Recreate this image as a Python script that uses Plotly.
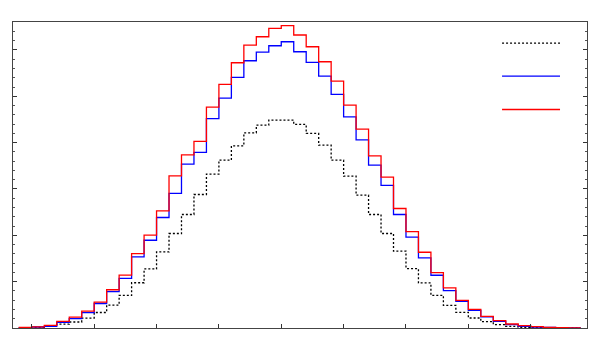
import numpy as np
import plotly.graph_objects as go

# histogram binning (same for all three samples)
bin_start = -4.2
bin_width = 0.2

counts_dotted = [4, 15, 43, 84, 130, 214, 335, 495, 702, 976, 1274, 1641, 2039, 2449, 2881,
                 3320, 3622, 3931, 4212, 4378, 4486, 4486, 4393, 4199, 3946, 3622, 3276, 2866,
                 2449, 2039, 1657, 1283, 972, 706, 490, 339, 216, 138, 73, 37, 15, 6, 0, 0, 0]
counts_blue = [6, 22, 37, 123, 203, 333, 529, 786, 1069, 1533, 1894, 2384, 2903, 3536, 3788,
               4518, 4961, 5408, 5767, 5955, 6091, 6177, 5961, 5732, 5436, 5041, 4557, 4060,
               3514, 3076, 2449, 1963, 1512, 1138, 808, 577, 382, 238, 145, 73, 37, 22, 11, 4, 0]
counts_red = [11, 26, 58, 145, 235, 365, 559, 825, 1143, 1607, 2006, 2527, 3283, 3737, 4026,
              4767, 5257, 5724, 6106, 6285, 6467, 6523, 6322, 6069, 5745, 5328, 4810, 4292,
              3715, 3255, 2579, 2078, 1635, 1197, 864, 598, 404, 253, 160, 86, 52, 30, 15, 9, 4]


def step_xy(counts):
    edges = bin_start + bin_width * np.arange(len(counts) + 1)
    x = np.concatenate([[edges[0]], edges])
    y = np.concatenate([[0], counts, [counts[-1]]])
    return x, y


fig = go.Figure()
series = [
    (counts_dotted, "black", "2px,2px"),
    (counts_blue, "#0000ff", "solid"),
    (counts_red, "#ff0000", "solid"),
]
for counts, col, dash in series:
    x, y = step_xy(counts)
    fig.add_trace(go.Scatter(x=x, y=y, mode="lines", line_shape="hv",
                             line=dict(color=col, width=1.3, dash=dash),
                             showlegend=False, hoverinfo="skip"))

# legend samples (no labels in the original)
leg_y = [0.931, 0.823, 0.714]
for (counts, col, dash), yy in zip(series, leg_y):
    fig.add_shape(type="line", xref="paper", yref="paper",
                  x0=0.852, x1=0.953, y0=yy, y1=yy,
                  line=dict(color=col, width=1.3, dash=dash))

fig.update_xaxes(range=[-4.302, 4.903], dtick=1, tick0=0, ticks="inside", ticklen=4,
                 tickcolor="#333", showticklabels=False, showgrid=False, zeroline=False,
                 showline=True, linecolor="#444", linewidth=1, mirror=True)
fig.update_yaxes(range=[0, 6603], dtick=1000, tick0=0, ticks="inside", ticklen=4,
                 tickcolor="#333", showticklabels=False, showgrid=False, zeroline=False,
                 showline=True, linecolor="#444", linewidth=1, mirror="ticks",
                 minor=dict(dtick=200, ticks="inside", ticklen=2, tickcolor="#555"))

fig.update_layout(
    width=600,
    height=350,
    margin=dict(l=5, r=21, t=14, b=30, pad=0),
    paper_bgcolor="white",
    plot_bgcolor="white",
)

fig.write_html("out.html")
